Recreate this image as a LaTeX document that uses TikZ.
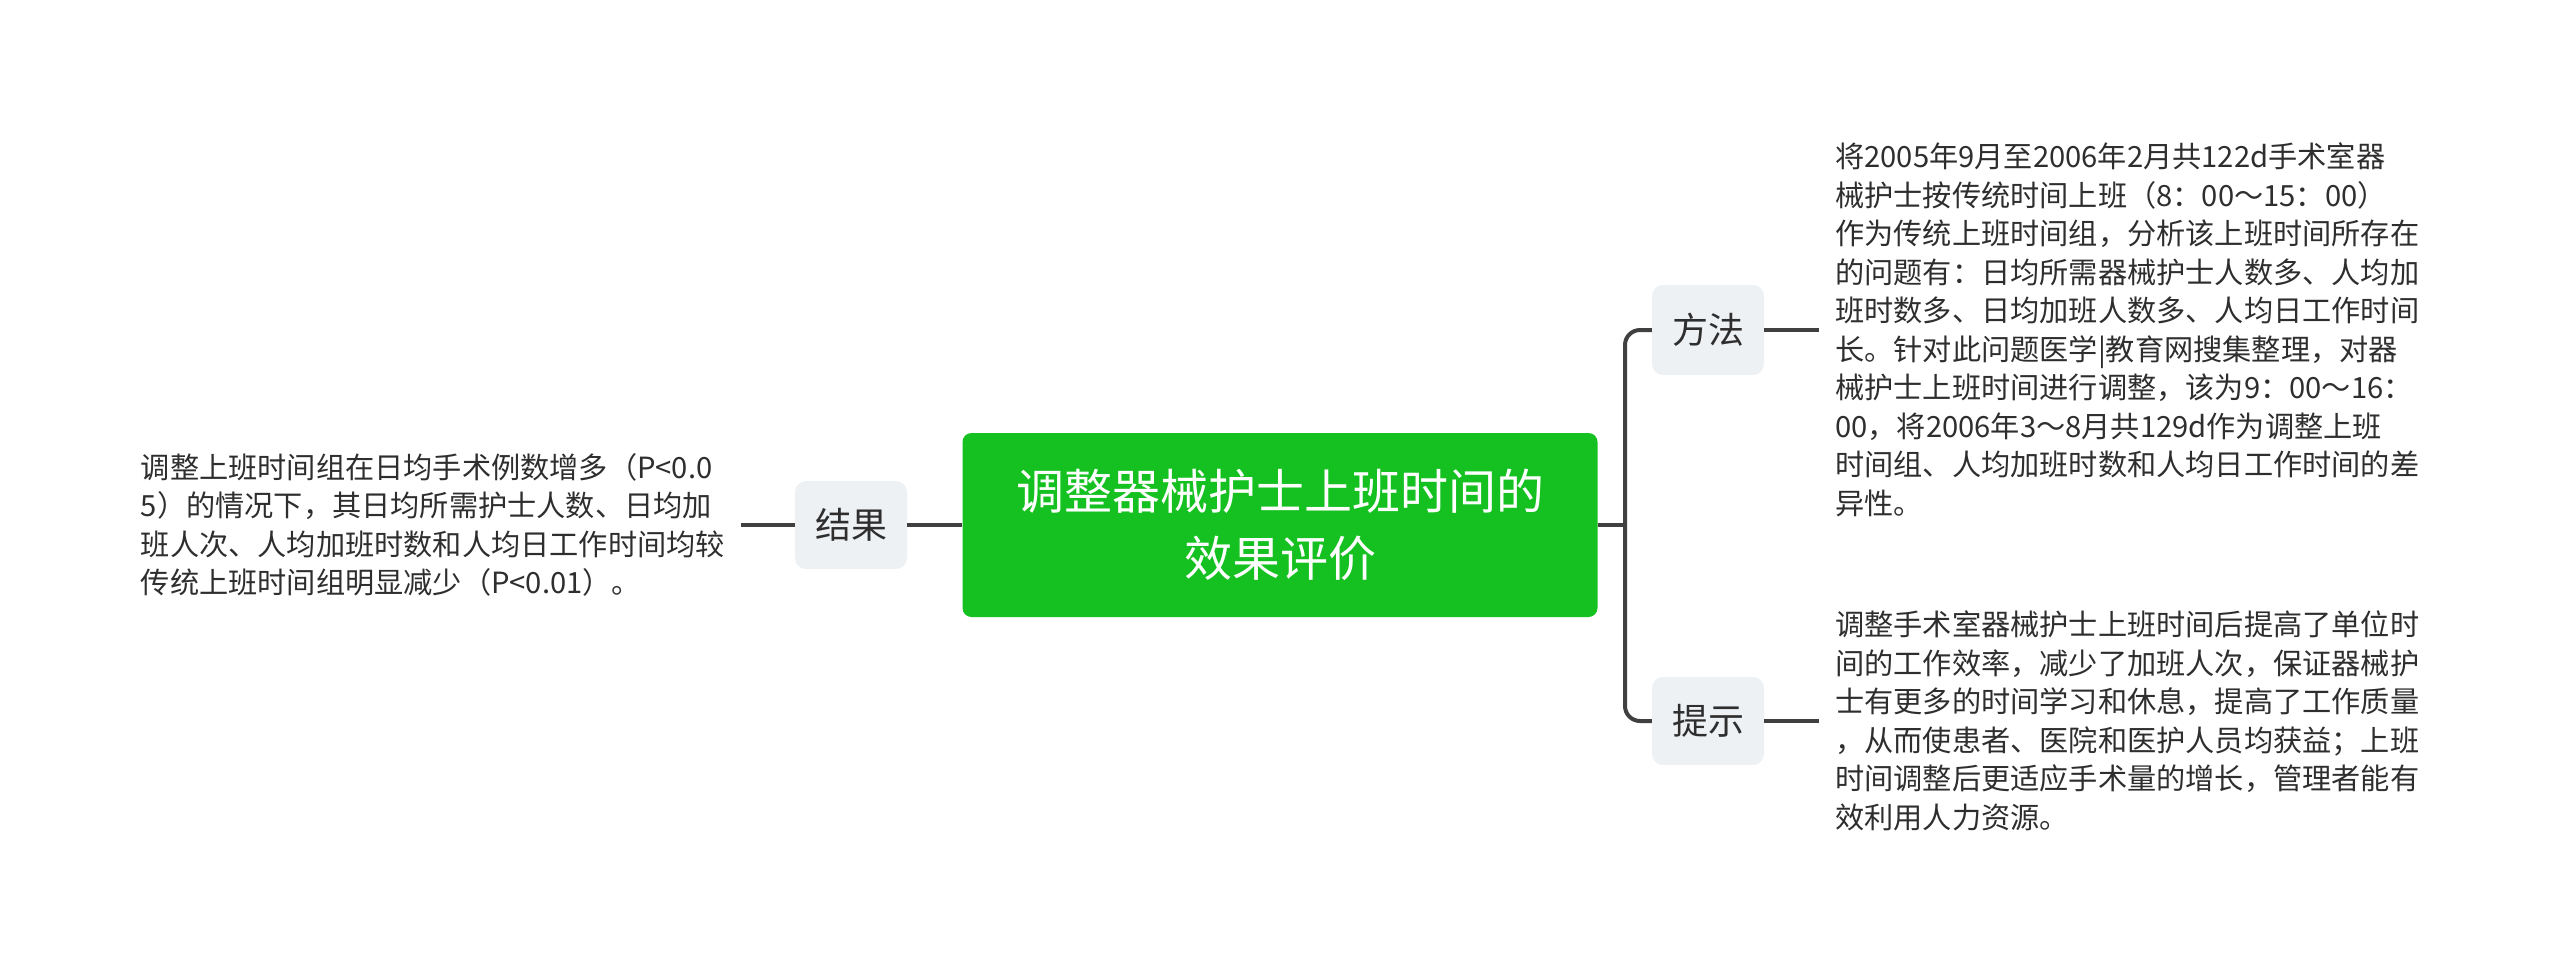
\documentclass[tikz,border=0pt]{standalone}
\usepackage{fontspec}
\newfontfamily\cjk{Noto Sans CJK SC}
\definecolor{rootgreen}{HTML}{14C120}
\definecolor{topicgray}{HTML}{EEF1F4}
\definecolor{linegray}{HTML}{404040}
\definecolor{txt}{HTML}{2E2E2E}
\tikzset{
  rootbox/.style={draw=none, fill=rootgreen, rounded corners=9pt, minimum width=635pt, minimum height=184pt,
    text=white, align=center, inner sep=0pt, font=\cjk\fontsize{48}{67}\selectfont},
  topicbox/.style={draw=none, fill=topicgray, rounded corners=11pt, minimum width=112pt, minimum height=88pt,
    text=txt, inner sep=0pt, font=\cjk\fontsize{36}{40}\selectfont},
  leaftext/.style={text=txt, align=left, inner ysep=0pt, font=\cjk\fontsize{29.2}{38.5}\selectfont},
  conn/.style={draw=linegray, line width=4pt},
}
\begin{document}
\begin{tikzpicture}[x=1pt,y=-1pt]
\useasboundingbox (0,0) rectangle (2560,975);
\node[rootbox] (root) at (1280,525) {调整器械护士上班时间的\\效果评价};
\node[topicbox] (jieguo) at (851,525) {结果};
\node[topicbox, minimum height=90pt] (fangfa) at (1708,330) {方法};
\node[topicbox] (tishi) at (1708,721) {提示};
\node[leaftext, anchor=east, inner xsep=16pt] (jieguotext) at (741,525) {调整上班时间组在日均手术例数增多（P<0.0\\5）的情况下，其日均所需护士人数、日均加\\班人次、人均加班时数和人均日工作时间均较\\传统上班时间组明显减少（P<0.01）。};
\node[leaftext, anchor=west, inner xsep=16pt] (fangfatext) at (1819,330) {将2005年9月至2006年2月共122d手术室器\\械护士按传统时间上班（8：00～15：00）\\作为传统上班时间组，分析该上班时间所存在\\的问题有：日均所需器械护士人数多、人均加\\班时数多、日均加班人数多、人均日工作时间\\长。针对此问题医学|教育网搜集整理，对器\\械护士上班时间进行调整，该为9：00～16：\\00，将2006年3～8月共129d作为调整上班\\时间组、人均加班时数和人均日工作时间的差\\异性。};
\node[leaftext, anchor=west, inner xsep=16pt] (tishitext) at (1819,721) {调整手术室器械护士上班时间后提高了单位时\\间的工作效率，减少了加班人次，保证器械护\\士有更多的时间学习和休息，提高了工作质量\\，从而使患者、医院和医护人员均获益；上班\\时间调整后更适应手术量的增长，管理者能有\\效利用人力资源。};
\coordinate (fork) at (1625,525);
\draw[conn] (root.east) -- (fork);
\draw[conn, rounded corners=15pt] (fangfa.west) -- (fork |- fangfa.west) -- (fork |- tishi.west) -- (tishi.west);
\draw[conn] (jieguo.east) -- (root.west);
\draw[conn] (jieguotext.east) -- (jieguo.west);
\draw[conn] (fangfa.east) -- (fangfatext.west);
\draw[conn] (tishi.east) -- (tishitext.west);
\end{tikzpicture}
\end{document}
